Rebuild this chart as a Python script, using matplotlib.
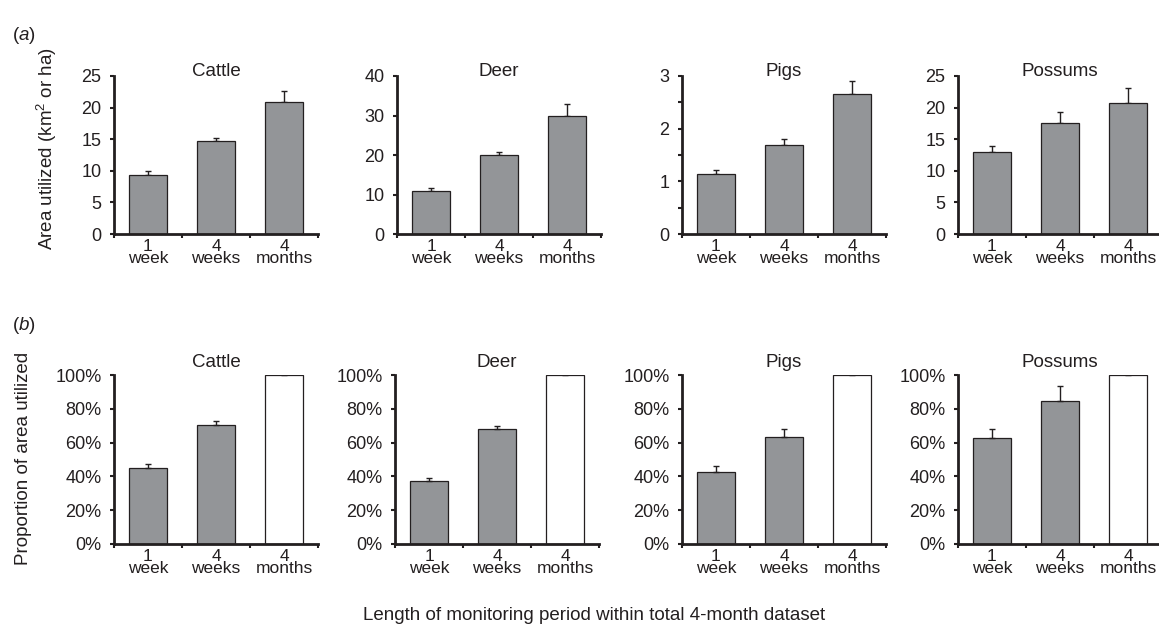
import matplotlib
matplotlib.use("Agg")
from matplotlib import pyplot as plt
from matplotlib.ticker import MultipleLocator, FuncFormatter

plt.rcParams['font.family'] = ['Liberation Sans', 'DejaVu Sans']
plt.rcParams['mathtext.fontset'] = 'custom'
plt.rcParams['mathtext.rm'] = 'Liberation Sans'
plt.rcParams['mathtext.it'] = 'Liberation Sans:italic'

# data
periods = ["1\nweek", "4\nweeks", "4\nmonths"]
species = ["Cattle", "Deer", "Pigs", "Possums"]

area_mean = [[9.4, 14.7, 20.9], [11.0, 20.0, 29.8], [1.13, 1.69, 2.65], [12.95, 17.5, 20.7]]
area_err = [[0.5, 0.5, 1.8], [0.6, 0.8, 3.0], [0.08, 0.12, 0.25], [0.95, 1.8, 2.4]]
area_ymax = [25, 40, 3, 25]
area_step = [5, 10, 1, 5]

prop_mean = [[45.0, 70.6, 100], [37.4, 67.8, 100], [42.6, 63.6, 100], [62.6, 84.6, 100]]
prop_err = [[2.3, 2.2, 0.3], [1.8, 1.8, 0.3], [3.5, 4.7, 0.3], [5.5, 8.9, 0.3]]

W, H = 1159, 626
ink = "#231f20"
grey = "#939598"
fs = 13.5

fig = plt.figure(figsize=(W / 100, H / 100), dpi=100)

def make_axes(left, top, bottom, width=204):
    return fig.add_axes([left / W, 1 - bottom / H, width / W, (bottom - top) / H])

def style(ax):
    for s in ["top", "right"]:
        ax.spines[s].set_visible(False)
    for s in ["left", "bottom"]:
        ax.spines[s].set_linewidth(2)
        ax.spines[s].set_color(ink)
    ax.set_xlim(0.5, 3.5)
    ax.set_xticks([1, 2, 3])
    ax.set_xticklabels(periods, fontsize=12.5, color=ink, linespacing=0.74)
    ax.set_xticks([0.5, 1.5, 2.5, 3.5], minor=True)
    ax.tick_params(axis="x", which="major", length=0, pad=3.5)
    ax.tick_params(axis="x", which="minor", length=3, width=1.5, color=ink, direction="out")
    ax.tick_params(axis="y", which="both", length=3, width=1.5, color=ink, direction="out",
                   labelsize=13, labelcolor=ink, pad=6)

lefts_top = [114, 397, 682, 958]
lefts_bot = [114, 395, 682, 958]
x = [1, 2, 3]

for i, name in enumerate(species):
    ax = make_axes(lefts_top[i], 76, 234)
    ax.bar(x, area_mean[i], width=0.57, color=grey, edgecolor=ink, linewidth=0.9, zorder=2)
    ax.errorbar(x, area_mean[i], yerr=[[0, 0, 0], area_err[i]], fmt="none", ecolor=ink,
                elinewidth=1, capsize=2.5, capthick=1, zorder=1)
    ax.set_ylim(0, area_ymax[i])
    ax.yaxis.set_major_locator(MultipleLocator(area_step[i]))
    if name == "Pigs":
        ax.yaxis.set_minor_locator(MultipleLocator(0.5))
    style(ax)
    ax.text(0.5, 1.0, name, transform=ax.transAxes, ha="center", va="baseline",
            fontsize=fs, color=ink)

    ax2 = make_axes(lefts_bot[i], 375, 544)
    colors = [grey, grey, "white"]
    ax2.bar(x, prop_mean[i], width=0.57, color=colors, edgecolor=ink, linewidth=0.9, zorder=2)
    ax2.errorbar(x, prop_mean[i], yerr=[[0, 0, 0], prop_err[i]], fmt="none", ecolor=ink,
                 elinewidth=1, capsize=2.5, capthick=1, zorder=3)
    ax2.set_ylim(0, 100)
    ax2.yaxis.set_major_locator(MultipleLocator(20))
    ax2.yaxis.set_major_formatter(FuncFormatter(lambda v, p: "%d%%" % v))
    style(ax2)
    ax2.text(0.5, 1.0 + 8 / 169, name, transform=ax2.transAxes, ha="center", va="baseline",
             fontsize=fs, color=ink)

fig.text(12 / W, 1 - 35 / H, "($\\it{a}$)", fontsize=fs, color=ink, va="center")
fig.text(12 / W, 1 - 325 / H, "($\\it{b}$)", fontsize=fs, color=ink, va="center")
fig.text(47 / W, 1 - 149 / H, "Area utilized (km$^2$ or ha)", rotation=90,
         fontsize=fs, color=ink, ha="center", va="center")
fig.text(24 / W, 1 - 458 / H, "Proportion of area utilized", rotation=90,
         fontsize=fs, color=ink, ha="center", va="center")
fig.text(594 / W, 1 - 615 / H, "Length of monitoring period within total 4-month dataset",
         fontsize=fs, color=ink, ha="center", va="center")

plt.savefig("out.png", dpi=100)
